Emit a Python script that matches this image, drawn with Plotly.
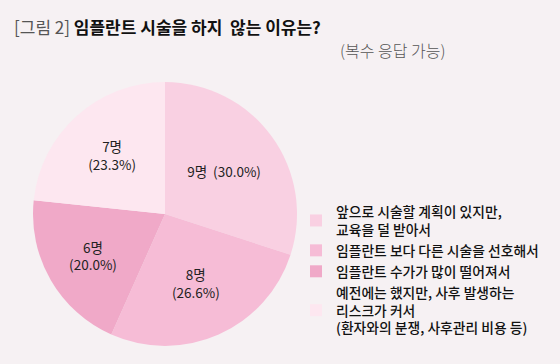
import plotly.graph_objects as go

# Data
reasons = [
    "앞으로 시술할 계획이 있지만,<br>교육을 덜 받아서",
    "임플란트 보다 다른 시술을 선호해서",
    "임플란트 수가가 많이 떨어져서",
    "예전에는 했지만, 사후 발생하는<br>리스크가 커서<br>(환자와의 분쟁, 사후관리 비용 등)",
]
counts = [9, 8, 6, 7]
pct_labels = ["30.0%", "26.6%", "20.0%", "23.3%"]
count_labels = ["9명", "8명", "6명", "7명"]
colors = ["#f9d0e2", "#f6bcd6", "#f0a9c8", "#fde7f0"]

texts = [f"{c}  ({p})" if i == 0 else f"{c}<br>({p})"
         for i, (c, p) in enumerate(zip(count_labels, pct_labels))]

W, H = 560, 364
font = "Noto Sans CJK KR"

fig = go.Figure(go.Pie(
    labels=reasons,
    values=counts,
    text=texts,
    textinfo="text",
    textposition="inside",
    insidetextorientation="horizontal",
    sort=False,
    direction="clockwise",
    rotation=0,
    marker=dict(colors=colors, line=dict(width=0)),
    textfont=dict(family=font, size=13.5, color="#222222"),
    domain=dict(x=[33 / W, 297 / W], y=[1 - 346 / H, 1 - 82 / H]),
    hoverinfo="skip",
))

fig.update_layout(
    width=W, height=H,
    margin=dict(l=0, r=0, t=0, b=0),
    paper_bgcolor="#f6f1f3",
    plot_bgcolor="#f6f1f3",
    font=dict(family=font, color="#111111"),
    title=dict(
        text="<span style='color:#555555;font-weight:400'>[그림 2]</span> <b>임플란트 시술을 하지  않는 이유는?</b>",
        x=14 / W, xanchor="left",
        y=1 - 28 / H, yanchor="middle",
        font=dict(family=font, size=17, color="#111111"),
    ),
    legend=dict(
        x=296 / W, xanchor="left",
        y=1 - 196 / H, yanchor="top",
        bgcolor="rgba(0,0,0,0)",
        font=dict(family=font, size=13.8, color="#111111", weight=500),
        tracegroupgap=0,
    ),
    annotations=[dict(
        text="(복수 응답 가능)",
        x=338 / W, xanchor="left", xref="paper",
        y=1 - 50 / H, yanchor="middle", yref="paper",
        showarrow=False,
        font=dict(family=font, size=16, color="#555555", weight=300),
    )],
)

fig.write_html("out.html")
